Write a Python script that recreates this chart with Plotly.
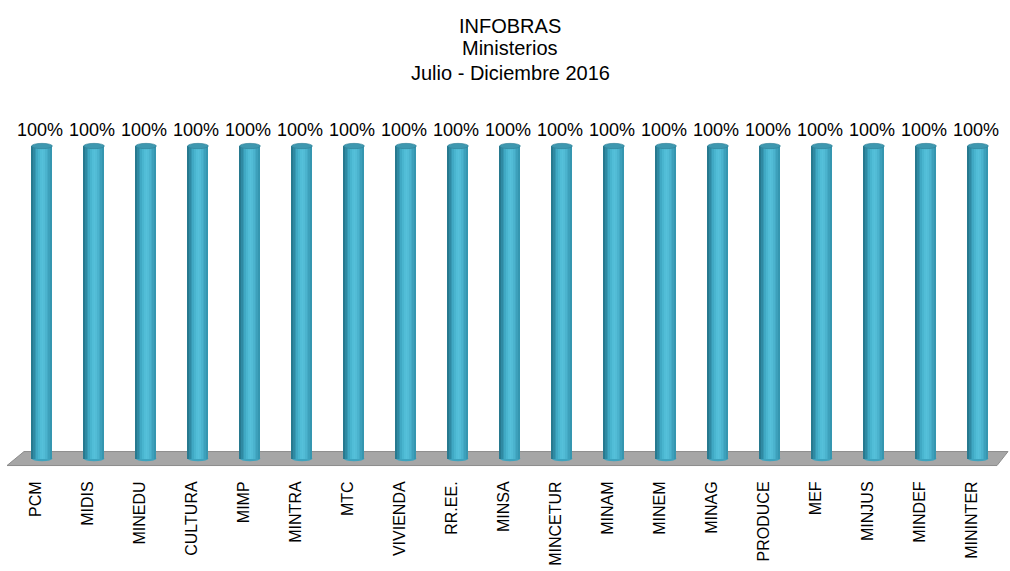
import plotly.graph_objects as go

categories = ["PCM", "MIDIS", "MINEDU", "CULTURA", "MIMP", "MINTRA", "MTC", "VIVIENDA",
              "RR.EE.", "MINSA", "MINCETUR", "MINAM", "MINEM", "MINAG", "PRODUCE",
              "MEF", "MINJUS", "MINDEF", "MININTER"]
values = [100] * 19
labels = [f"{v}%" for v in values]
title_lines = ["INFOBRAS", "Ministerios", "Julio - Diciembre 2016"]

W, H = 1010, 571
ML, MR, MT = 16, 6, 96
YMIN, YMAX = -3, 116
PPU = 3.13
plot_h = (YMAX - YMIN) * PPU
MB = H - MT - plot_h
FONT = "Liberation Sans, Arial"

def px_to_paper_x(px):
    return (px - ML) / (W - ML - MR)

def px_to_paper_y(py):
    return (MT + plot_h - py) / plot_h

# cylinder shading strips (left -> right)
strip_colors = ["#27798f", "#2f8aa3", "#3799b3", "#40a9c4", "#49b5cf", "#51bdd7",
                "#55c0da", "#52bcd6", "#4bb3ce", "#44aac5", "#3da0bb", "#3596b0"]
bar_w = 0.40
sw = bar_w / len(strip_colors)

fig = go.Figure()
for k, c in enumerate(strip_colors):
    fig.add_trace(go.Bar(
        x=categories, y=values, width=sw * 1.05, offset=-bar_w / 2 + k * sw,
        marker=dict(color=c, line=dict(width=0)), showlegend=False, hoverinfo="skip"))

# invisible trace carrying the shifted label axis
fig.add_trace(go.Scatter(x=list(range(len(categories))), y=values, xaxis="x2",
                         mode="markers", marker=dict(opacity=0), showlegend=False,
                         hoverinfo="skip"))

annotations = []
for cat, v, lab in zip(categories, values, labels):
    annotations.append(dict(x=cat, y=v, xref="x", yref="y", text=lab, showarrow=False,
                            yshift=16, xshift=-2,
                            font=dict(family=FONT, size=18, color="#000000")))
title_y = [26, 48, 73]
for t, ty in zip(title_lines, title_y):
    annotations.append(dict(x=0.5, xref="paper", y=px_to_paper_y(ty), yref="paper",
                            text=t, showarrow=False, yanchor="middle",
                            font=dict(family=FONT, size=20, color="#000000")))

shapes = []
# floor
fx = [24, 1008, 997, 7]
fy = [452, 452, 466, 466]
path = "M {} {} L {} {} L {} {} L {} {} Z".format(
    *[val for p in zip([px_to_paper_x(a) for a in fx], [px_to_paper_y(b) for b in fy]) for val in p])
shapes.append(dict(type="path", xref="paper", yref="paper", path=path,
                   fillcolor="#a6a6a6", line=dict(color="#8c8c8c", width=1), layer="below"))
eh = 0.85
for i, v in enumerate(values):
    shapes.append(dict(type="circle", xref="x", yref="y", x0=i - bar_w / 2, x1=i + bar_w / 2,
                       y0=-eh, y1=eh, fillcolor="#3da3be", line=dict(width=0), layer="below"))
    shapes.append(dict(type="circle", xref="x", yref="y", x0=i - bar_w / 2, x1=i + bar_w / 2,
                       y0=v - eh, y1=v + eh, fillcolor="#3e98b0",
                       line=dict(color="#2f7f95", width=0.6), layer="above"))

shift = 6 / 52.0
fig.update_layout(
    width=W, height=H,
    margin=dict(l=ML, r=MR, t=MT, b=MB, pad=0, autoexpand=False),
    paper_bgcolor="white", plot_bgcolor="white",
    barmode="overlay", bargap=0,
    xaxis=dict(type="category", range=[-0.5, len(categories) - 0.5], showticklabels=False,
               showgrid=False, zeroline=False, showline=False, ticks="", automargin=False),
    xaxis2=dict(overlaying="x", anchor="y", side="bottom", automargin=False,
                range=[-0.5 + shift, len(categories) - 0.5 + shift],
                tickmode="array", tickvals=list(range(len(categories))), ticktext=categories,
                tickangle=-90, ticks="outside", ticklen=6, tickcolor="rgba(0,0,0,0)",
                tickfont=dict(family=FONT, size=16, color="#000000"),
                showgrid=False, zeroline=False, showline=False),
    yaxis=dict(range=[YMIN, YMAX], visible=False, showgrid=False, zeroline=False,
               automargin=False),
    shapes=shapes,
    annotations=annotations,
)

fig.write_html("out.html", config={"displayModeBar": False},
               post_script="document.body.style.margin='0';")
